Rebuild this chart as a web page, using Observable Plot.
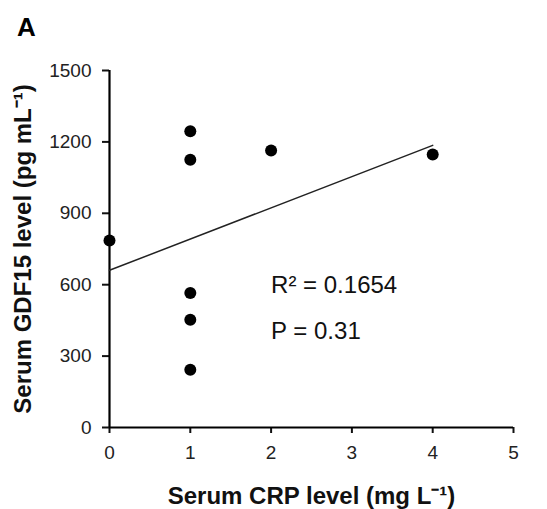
<!DOCTYPE html>
<html><head><meta charset="utf-8">
<script src="https://cdn.jsdelivr.net/npm/d3@7"></script>
<script src="https://cdn.jsdelivr.net/npm/@observablehq/plot@0.6"></script>
<style>
body{margin:0;background:#fff;font-family:"Liberation Sans",Arial,sans-serif;}
#panel{height:40px;line-height:40px;font-size:26px;font-weight:bold;padding-left:17px;position:relative;top:7px;color:#000;}
g[aria-label="x-axis label"] text, g[aria-label="y-axis label"] text {font-weight:bold;font-size:24px;fill:#111;}
g[aria-label="x-axis tick label"] text, g[aria-label="y-axis tick label"] text {font-size:19px;fill:#222;}
</style></head><body>
<div id="panel">A</div>
<div id="chart"></div>
<script>
const crp = [0, 1, 1, 1, 1, 1, 2, 4];
const gdf15 = [786, 1245, 1125, 565, 453, 243, 1164, 1147];
const xTicks = [0, 1, 2, 3, 4, 5];
const yTicks = [0, 300, 600, 900, 1200, 1500];
const statLabels = ["R² = 0.1654", "P = 0.31"];
const statX = [2, 2];
const statY = [564, 371];
const xLabel = "Serum CRP level (mg L⁻¹)";
const yLabel = "Serum GDF15 level (pg mL⁻¹)";

const data = crp.map((x, i) => ({x, y: gdf15[i]}));
const stats = statLabels.map((t, i) => ({t, x: statX[i], y: statY[i]}));

const chart = Plot.plot({
  width: 547,
  height: 469,
  marginTop: 30,
  marginLeft: 109,
  marginRight: 34,
  marginBottom: 82,
  style: {fontFamily: "Liberation Sans, Arial, sans-serif", color: "#111", background: "#fff"},
  x: {domain: [0, 5]},
  y: {domain: [0, 1500]},
  marks: [
    Plot.axisX(xTicks, {tickSize: 6, tickPadding: 12, strokeWidth: 2, tickFormat: d => String(d), label: xLabel, labelArrow: "none", labelAnchor: "center", labelOffset: 76}),
    Plot.axisY(yTicks, {tickSize: 7, tickPadding: 11, strokeWidth: 2, tickFormat: d => String(d), label: yLabel, labelArrow: "none", labelAnchor: "center", labelOffset: 96}),
    Plot.ruleX([0], {strokeWidth: 2.2, stroke: "#000"}),
    Plot.ruleY([0], {strokeWidth: 2.2, stroke: "#000"}),
    Plot.linearRegressionY(data, {x: "x", y: "y", stroke: "#222", strokeWidth: 1.5, ci: 0}),
    Plot.dot(data, {x: "x", y: "y", r: 6, fill: "#000", stroke: "none"}),
    Plot.text(stats, {x: "x", y: "y", text: "t", textAnchor: "start", lineAnchor: "bottom", fontSize: 24, fill: "#111"})
  ]
});
document.getElementById("chart").appendChild(chart);
</script>
</body></html>
